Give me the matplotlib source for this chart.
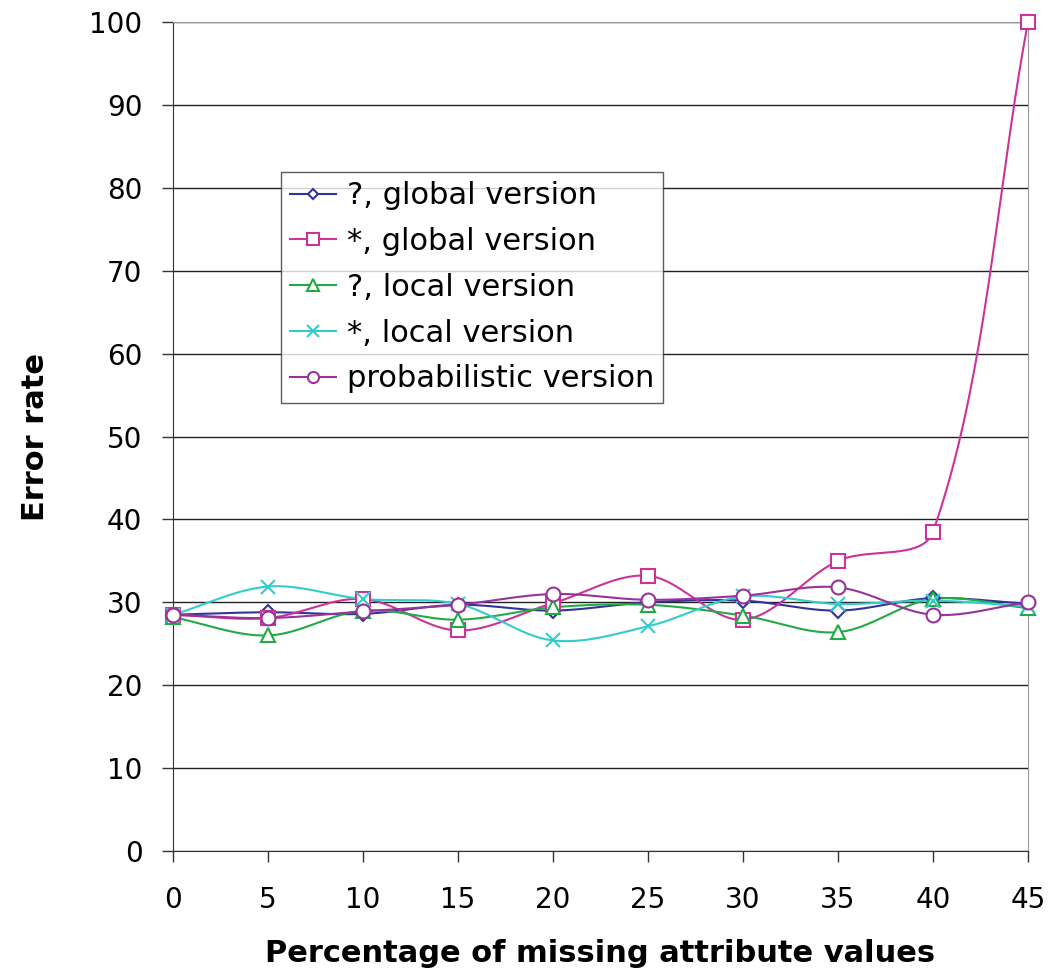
import numpy as np
import matplotlib
matplotlib.use("Agg")
import matplotlib.pyplot as plt

x_values = [0, 5, 10, 15, 20, 25, 30, 35, 40, 45]
q_global = [28.5, 28.8, 28.6, 29.7, 29.0, 30.0, 30.2, 29.0, 30.5, 29.8]
s_global = [28.5, 28.1, 30.4, 26.6, 29.9, 33.2, 27.9, 35.0, 38.5, 100.0]
q_local = [28.2, 26.0, 29.0, 27.9, 29.4, 29.7, 28.4, 26.4, 30.4, 29.3]
s_local = [28.5, 31.9, 30.4, 29.8, 25.4, 27.1, 30.7, 29.8, 30.2, 29.5]
prob = [28.5, 28.1, 28.9, 29.7, 31.0, 30.3, 30.8, 31.8, 28.5, 30.0]

labels = ["?, global version", "*, global version", "?, local version",
          "*, local version", "probabilistic version"]
colors = ["#333399", "#CC3399", "#22AA44", "#33CCCC", "#993399"]
markers = ["D", "s", "^", "x", "o"]
msizes = [7, 10, 10, 10, 10]

fig = plt.figure(figsize=(10.5, 9.71), dpi=100)
ax = fig.add_axes([0.1648, 0.1236, 0.979 - 0.1648, 0.9773 - 0.1236])
ax.set_xlim(0, 45)
ax.set_ylim(0, 100)


def smooth_excel(xs, ys, n=40, f=1.0 / 3.0):
    # smoothing in display space, control lengths weighted by segment lengths
    pts = ax.transData.transform(np.column_stack([xs, ys]))
    P = np.vstack([pts[0], pts, pts[-1]])
    out = []
    t = np.linspace(0, 1, n)[:, None]
    for i in range(1, len(P) - 2):
        p0, p1, p2, p3 = P[i - 1], P[i], P[i + 1], P[i + 2]
        d01 = np.hypot(*(p1 - p0))
        d12 = np.hypot(*(p2 - p1))
        d23 = np.hypot(*(p3 - p2))
        w1 = d12 / (d01 + d12) if d01 + d12 > 0 else 0
        w2 = d12 / (d12 + d23) if d12 + d23 > 0 else 0
        b1 = p1 + (p2 - p0) * w1 * f
        b2 = p2 - (p3 - p1) * w2 * f
        seg = (1 - t) ** 3 * p1 + 3 * (1 - t) ** 2 * t * b1 + 3 * (1 - t) * t ** 2 * b2 + t ** 3 * p2
        out.append(seg)
    out = np.vstack(out)
    d = ax.transData.inverted().transform(out)
    return d[:, 0], d[:, 1]


series = [q_global, s_global, q_local, s_local, prob]
handles = []
for ys, lab, c, m, ms in zip(series, labels, colors, markers, msizes):
    sx, sy = smooth_excel(x_values, ys)
    ax.plot(sx, sy, color=c, lw=1.5, zorder=3, clip_on=False)
    ax.plot(x_values, ys, ls="none", marker=m, ms=ms, mfc="white" if m != "x" else c,
            mec=c, mew=1.5, zorder=4, clip_on=False)
    h, = ax.plot([], [], color=c, lw=1.5, marker=m, ms=ms * 0.8, mfc="white", mec=c, mew=1.5, label=lab)
    handles.append(h)

ax.set_xticks(x_values)
ax.set_yticks(range(0, 101, 10))
ax.yaxis.grid(True, color="#222222", lw=1)
ax.set_axisbelow(True)
for s in ["top", "right"]:
    ax.spines[s].set_color("#999999")
for s in ["left", "bottom"]:
    ax.spines[s].set_color("#333333")
ax.tick_params(axis="both", labelsize=20, length=8, width=1, color="#333333", direction="out")
ax.tick_params(axis="y", pad=14)
ax.tick_params(axis="x", pad=17)
ax.set_xlabel("Percentage of missing attribute values", fontsize=22, fontweight="bold", labelpad=18)
ax.set_ylabel("Error rate", fontsize=22, fontweight="bold", labelpad=28)

leg = ax.legend(handles=handles, loc="upper left", bbox_to_anchor=(0.1263, 0.819),
                fontsize=22, frameon=True, fancybox=False, edgecolor="#333333",
                handlelength=1.5, handletextpad=0.35, borderpad=0.3, labelspacing=0.55,
                borderaxespad=0)
leg.get_frame().set_linewidth(1)

fig.savefig("out.png", dpi=100)
